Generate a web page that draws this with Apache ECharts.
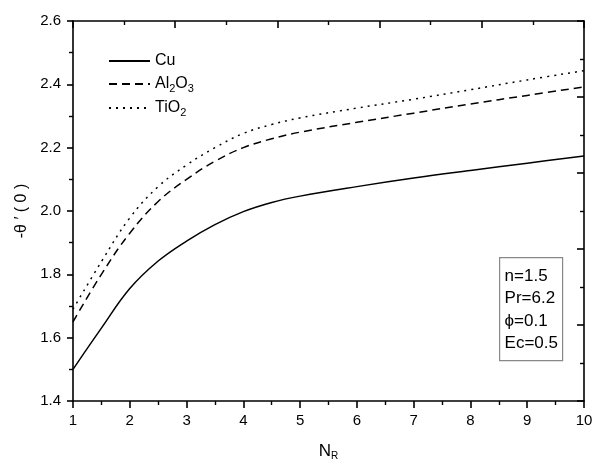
<!DOCTYPE html>
<html>
<head>
<meta charset="utf-8">
<script src="https://cdn.jsdelivr.net/npm/echarts@6/dist/echarts.min.js"></script>
<style>html,body{margin:0;padding:0;background:#fff}#c{width:600px;height:470px}</style>
</head>
<body>
<div id="c"></div>
<script>
const xValues = [1, 1.5, 2, 2.5, 3, 3.5, 4, 4.5, 5, 6, 7, 8, 9, 10];
const cu    = [1.500, 1.630, 1.755, 1.842, 1.905, 1.957, 1.998, 2.027, 2.047, 2.077, 2.104, 2.128, 2.151, 2.174];
const al2o3 = [1.650, 1.800, 1.930, 2.030, 2.100, 2.157, 2.200, 2.228, 2.249, 2.280, 2.309, 2.338, 2.365, 2.392];
const tio2  = [1.690, 1.840, 1.978, 2.077, 2.145, 2.200, 2.245, 2.273, 2.294, 2.325, 2.353, 2.383, 2.414, 2.443];
const seriesNames = ['Cu', 'Al2O3', 'TiO2'];
const legendLabels = {'Cu': 'Cu', 'Al2O3': 'Al{sub|2}O{sub|3}', 'TiO2': 'TiO{sub|2}'};
const infoLines = ['n=1.5', 'Pr=6.2', '\u03d5=0.1', 'Ec=0.5'];

const FONT = 'Liberation Sans, Arial, sans-serif';
const chart = echarts.init(document.getElementById('c'), null, {renderer: 'canvas'});
const pairs = arr => xValues.map((x, i) => [x, arr[i]]);
const lineTypes = ['solid', [8, 5], [2, 5]];
const seriesData = [cu, al2o3, tio2];

const axisLineStyle = {color: '#000', width: 1.6};
chart.setOption({
  animation: false,
  backgroundColor: '#fff',
  grid: {left: 73, right: 16, top: 21, bottom: 69},
  legend: {
    orient: 'vertical', left: 103, top: 47,
    itemWidth: 41, itemHeight: 14, itemGap: 5,
    data: seriesNames,
    itemStyle: {opacity: 0},
    formatter: n => legendLabels[n],
    textStyle: {
      fontFamily: FONT, fontSize: 16, color: '#000', lineHeight: 18,
      rich: {sub: {fontSize: 11, fontFamily: FONT, color: '#000', padding: [9, 0, 0, 0]}}
    }
  },
  xAxis: [{
    type: 'value', min: 1, max: 10, interval: 1, position: 'bottom',
    name: 'N{sub|R}', nameLocation: 'middle', nameGap: 40,
    nameTextStyle: {fontFamily: FONT, fontSize: 17, color: '#000',
      rich: {sub: {fontSize: 10, fontFamily: FONT, color: '#000', padding: [10, 0, 0, 0]}}},
    axisLine: {show: true, lineStyle: axisLineStyle},
    axisTick: {show: true, inside: false, length: 7, lineStyle: axisLineStyle},
    minorTick: {show: true, splitNumber: 2, length: 4, lineStyle: {color: '#000', width: 1.4}},
    splitLine: {show: false},
    axisLabel: {fontFamily: FONT, fontSize: 15, color: '#000', margin: 12}
  }, {
    type: 'value', min: 0, max: 10, interval: 2, position: 'top',
    axisLine: {show: true, lineStyle: axisLineStyle},
    axisTick: {show: true, inside: true, length: 7, lineStyle: axisLineStyle},
    minorTick: {show: true, splitNumber: 2, length: 4, lineStyle: {color: '#000', width: 1.4}},
    splitLine: {show: false},
    axisLabel: {show: false}
  }],
  yAxis: [{
    type: 'value', min: 1.4, max: 2.6, interval: 0.2, position: 'left',
    name: '-\u03b8 \u2032 ( 0 )', nameLocation: 'middle', nameGap: 41, nameRotate: 90,
    nameTextStyle: {fontFamily: FONT, fontSize: 16, color: '#000'},
    axisLine: {show: true, lineStyle: axisLineStyle},
    axisTick: {show: true, inside: false, length: 6, lineStyle: axisLineStyle},
    minorTick: {show: true, splitNumber: 2, length: 4, lineStyle: {color: '#000', width: 1.4}},
    splitLine: {show: false},
    axisLabel: {fontFamily: FONT, fontSize: 15, color: '#000', margin: 12, formatter: v => v.toFixed(1)}
  }, {
    type: 'value', min: 0, max: 10, interval: 2, position: 'right',
    axisLine: {show: true, lineStyle: axisLineStyle},
    axisTick: {show: true, inside: true, length: 7, lineStyle: axisLineStyle},
    minorTick: {show: true, splitNumber: 2, length: 4, lineStyle: {color: '#000', width: 1.4}},
    splitLine: {show: false},
    axisLabel: {show: false}
  }],
  series: seriesNames.map((n, i) => ({
    name: n, type: 'line', xAxisIndex: 0, yAxisIndex: 0,
    data: pairs(seriesData[i]), smooth: 0.4, symbol: 'none',
    lineStyle: {color: '#000', width: 1.5, type: lineTypes[i]},
    itemStyle: {color: '#000'}
  })),
  graphic: [{
    type: 'group', left: 499, top: 257,
    children: [
      {type: 'rect', shape: {x: 0, y: 0, width: 63, height: 103},
       style: {fill: '#fff', stroke: '#888', lineWidth: 1.2}},
      ...infoLines.map((t, i) => ({
        type: 'text', left: 5, top: 10 + i * 22.5,
        style: {text: t, fontFamily: FONT, fontSize: 17, fill: '#000'}
      }))
    ]
  }]
});
</script>
</body>
</html>
